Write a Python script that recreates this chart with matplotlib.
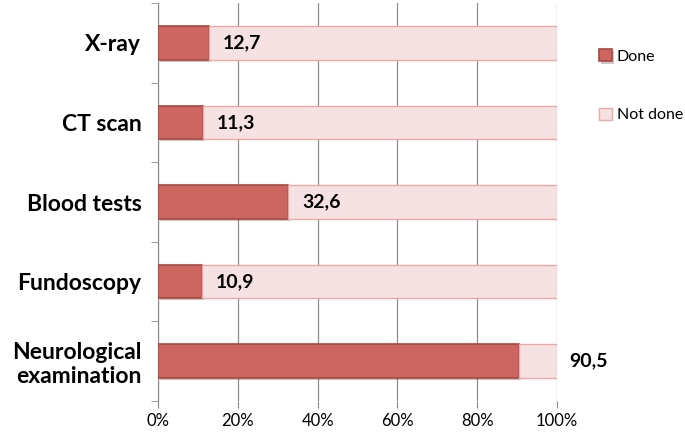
import numpy as np
import matplotlib.pyplot as plt
import matplotlib.patheffects as pe

categories = ['X-ray', 'CT scan', 'Blood tests', 'Fundoscopy', 'Neurological\nexamination']
done = [12.7, 11.3, 32.6, 10.9, 90.5]
labels = ['12,7', '11,3', '32,6', '10,9', '90,5']
not_done = [100 - d for d in done]

plt.rcParams['font.family'] = ['Lato', 'DejaVu Sans']

fig = plt.figure(figsize=(6.85, 4.32), dpi=100)
ax = fig.add_axes([0.2307, 0.0718, 0.5825, 0.9212])

y = np.arange(len(categories))[::-1]
shadow = [pe.SimplePatchShadow(offset=(1.5, -1.5), alpha=0.25), pe.Normal()]
b1 = ax.barh(y, done, height=0.42, color='#CD6661', edgecolor='#A9473F',
             linewidth=1.2, label='Done', zorder=3)
b2 = ax.barh(y, not_done, left=done, height=0.42, color='#F6E2E2',
             edgecolor='#EBA9A8', linewidth=1.0, label='Not done', zorder=3)
for b in b1:
    b.set_path_effects(shadow)

for yi, d, t in zip(y, done, labels):
    xpos = d + 3.5 if d < 80 else 103
    ax.text(xpos, yi, t, va='center', ha='left', fontsize=14,
            fontweight='bold', zorder=4, clip_on=False)

ax.set_xlim(0, 100)
ax.set_ylim(-0.5, len(categories) - 0.5)
ax.set_xticks(np.arange(0, 101, 20))
ax.set_xticklabels(['%d%%' % v for v in range(0, 101, 20)], fontsize=12)
ax.set_yticks(y)
ax.set_yticklabels(categories, fontsize=16.5, fontweight='bold', linespacing=1.15)
ax.set_yticks(np.arange(-0.5, len(categories), 1), minor=True)
ax.tick_params(axis='y', which='major', length=0, pad=12)
ax.tick_params(axis='y', which='minor', length=5, color='#888888')
ax.tick_params(axis='x', length=5, color='#888888', pad=4)
ax.grid(axis='x', color='#8c8c8c', linewidth=0.9, zorder=0)
for s in ['top', 'right', 'bottom']:
    ax.spines[s].set_visible(False)
ax.spines['left'].set_color('#888888')

ax.legend(loc='upper left', bbox_to_anchor=(1.07, 0.92), frameon=False,
          fontsize=11.5, labelspacing=2.75, handlelength=0.8, handleheight=0.8,
          handletextpad=0.3)

fig.savefig('out.png', dpi=100)
